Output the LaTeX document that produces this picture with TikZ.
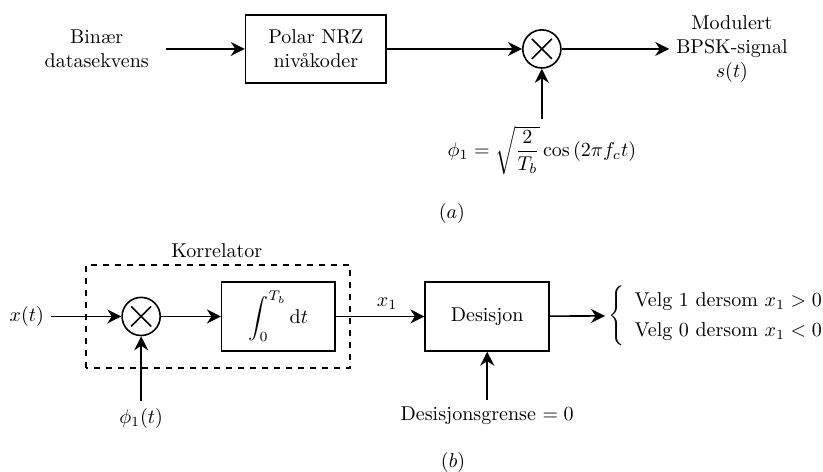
\documentclass[tikz,border=0pt]{standalone}
\usepackage{amsmath,amssymb}
\usepackage{tikz}
\usetikzlibrary{shapes,arrows.meta,positioning,calc}

\tikzset{
  blokk/.style={draw, thick, align=center},
  miks/.style={draw, thick, circle, minimum size=0.67cm, inner sep=0pt,
    path picture={
      \draw[thick] ([shift={(-0.175,-0.175)}]path picture bounding box.center) -- ([shift={(0.175,0.175)}]path picture bounding box.center);
      \draw[thick] ([shift={(-0.175,0.175)}]path picture bounding box.center) -- ([shift={(0.175,-0.175)}]path picture bounding box.center);
    }},
  pil/.style={thick, -{Stealth[length=7pt,width=7pt]}}
}

\begin{document}
\begin{tikzpicture}
    \useasboundingbox (0,0) rectangle (14.46,8.28);

    % (a) sender
    \node[align=center] (kilde) at (1.70,7.42) {Binær\\datasekvens};
    \node[blokk, minimum width=2.47cm, minimum height=1.19cm] (nrz) at (5.55,7.42) {Polar NRZ\\nivåkoder};
    \node[miks] (mult1) at (9.52,7.42) {};
    \node[align=center] (ut1) at (12.86,7.42) {Modulert\\BPSK-signal\\$s(t)$};
    \node[anchor=north] (phi) at (9.52,6.19) {$\phi_1 = \sqrt{\dfrac{2}{T_b}}\cos\left(2\pi f_c t\right)$};
    \node (fa) at (7.94,4.53) {$(a)$};

    \draw[pil] ([xshift=5pt]kilde.east) -- (nrz);
    \draw[pil] (nrz) -- (mult1);
    \draw[pil] (mult1) -- (ut1);
    \draw[pil] (phi) -- (mult1);

    % (b) mottaker
    \draw[thick, dashed] (1.51,1.81) rectangle (6.15,3.62);
    \node (korr) at (3.81,3.88) {Korrelator};
    \node (xt) at (0.47,2.72) {$x(t)$};
    \node[miks] (mult2) at (2.48,2.72) {};
    \node[blokk, minimum width=1.99cm, minimum height=1.21cm] (integ) at (4.89,2.72) {$\displaystyle\int_0^{T_b} \mathrm{d}t$};
    \node (xen) at (6.80,2.95) {$x_1$};
    \node[blokk, minimum width=2.18cm, minimum height=1.21cm] (desis) at (8.56,2.72) {Desisjon};
    \node[anchor=west, inner sep=1.5pt] (valg) at (10.63,2.74) {$\renewcommand{\arraystretch}{1.25}\left\{\begin{array}{l}\text{Velg 1 dersom } x_1 > 0\\ \text{Velg 0 dersom } x_1 < 0\end{array}\right.$};
    \node (phito) at (2.48,0.93) {$\phi_1(t)$};
    \node (grense) at (8.56,0.97) {Desisjonsgrense $= 0$};
    \node (fb) at (7.96,0.16) {$(b)$};

    \draw[pil] (xt) -- (mult2);
    \draw[pil] (mult2) -- (integ);
    \draw[pil] (integ) -- (desis);
    \draw[pil] (desis) -- (valg);
    \draw[pil] (phito) -- (mult2);
    \draw[pil] (grense) -- (desis);
\end{tikzpicture}
\end{document}
